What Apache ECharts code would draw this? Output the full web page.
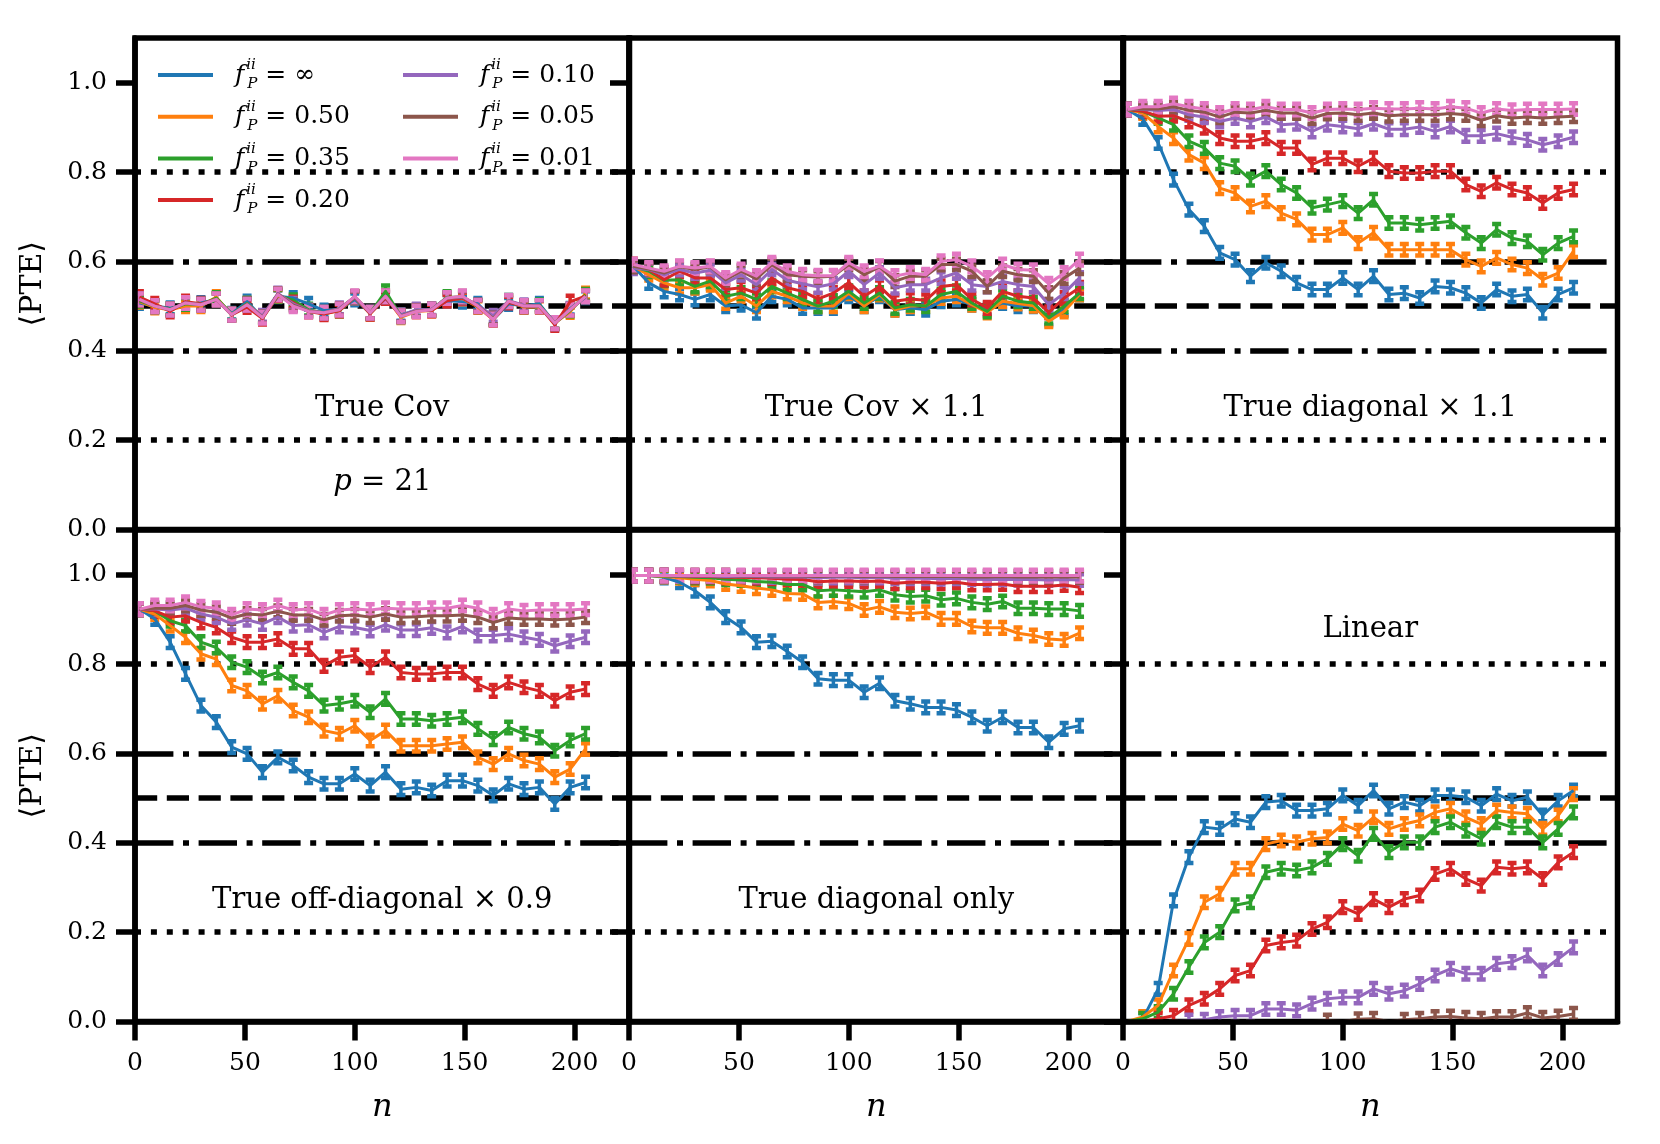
<!DOCTYPE html>
<html>
<head>
<meta charset="utf-8">
<script src="https://cdn.jsdelivr.net/npm/echarts@6/dist/echarts.min.js"></script>
<style>
  html, body { margin: 0; padding: 0; background: #fff; }
  #pte-grid { width: 1660px; height: 1144px; }
</style>
</head>
<body>
<div id="pte-grid"></div>
<script>
// Sample sizes n on the x axis (same for every panel)
const nValues = [2, 9, 16, 23, 30, 37, 44, 51, 58, 65, 72, 79, 86, 93, 100,
  107, 114, 121, 128, 135, 142, 149, 156, 163, 170, 177, 184, 191, 198, 205];

// f_P^ii values, one curve each
const fLabels = ["∞", "0.50", "0.35", "0.20", "0.10", "0.05", "0.01"];
const colors = ["#1f77b4", "#ff7f0e", "#2ca02c", "#d62728", "#9467bd", "#8c564b", "#e377c2"];

const yTicks = [0, 0.2, 0.4, 0.6, 0.8, 1.0];
const xTicks = [0, 50, 100, 150, 200];
const errHalf = 0.013; // half height of the error bars

// <PTE> per panel, rows in the order of fLabels
const trueCov = [
  [0.507,0.500,0.495,0.503,0.507,0.515,0.483,0.510,0.474,0.522,0.518,0.505,0.490,0.492,0.515,0.485,0.518,0.480,0.490,0.492,0.512,0.510,0.505,0.470,0.505,0.500,0.505,0.462,0.494,0.520],
  [0.510,0.497,0.492,0.500,0.500,0.520,0.480,0.505,0.476,0.523,0.510,0.490,0.483,0.490,0.520,0.483,0.522,0.475,0.488,0.490,0.515,0.517,0.498,0.470,0.510,0.498,0.498,0.462,0.487,0.528],
  [0.512,0.500,0.493,0.505,0.503,0.518,0.482,0.505,0.475,0.524,0.513,0.492,0.485,0.490,0.520,0.484,0.533,0.477,0.490,0.492,0.520,0.520,0.500,0.472,0.512,0.500,0.502,0.462,0.490,0.525],
  [0.520,0.505,0.488,0.510,0.505,0.515,0.480,0.498,0.472,0.525,0.508,0.488,0.482,0.490,0.520,0.483,0.518,0.478,0.490,0.490,0.512,0.518,0.500,0.470,0.508,0.500,0.500,0.458,0.510,0.522],
  [0.515,0.500,0.492,0.507,0.503,0.515,0.481,0.503,0.478,0.528,0.505,0.490,0.485,0.495,0.520,0.485,0.522,0.479,0.492,0.493,0.518,0.520,0.502,0.478,0.512,0.502,0.500,0.462,0.492,0.522],
  [0.514,0.500,0.492,0.507,0.504,0.515,0.481,0.504,0.475,0.527,0.502,0.489,0.485,0.493,0.521,0.485,0.522,0.478,0.489,0.492,0.518,0.521,0.501,0.472,0.511,0.500,0.500,0.462,0.492,0.522],
  [0.515,0.500,0.492,0.507,0.503,0.515,0.481,0.503,0.474,0.526,0.500,0.488,0.485,0.492,0.522,0.485,0.522,0.477,0.488,0.492,0.518,0.522,0.500,0.470,0.511,0.500,0.500,0.462,0.492,0.522],
];

const trueCovScaled = [
  [0.589,0.552,0.533,0.526,0.515,0.526,0.500,0.503,0.485,0.522,0.515,0.496,0.496,0.496,0.522,0.500,0.522,0.492,0.496,0.492,0.511,0.515,0.503,0.492,0.507,0.500,0.500,0.470,0.492,0.526],
  [0.589,0.570,0.552,0.541,0.541,0.548,0.507,0.522,0.500,0.533,0.522,0.507,0.500,0.500,0.529,0.500,0.526,0.492,0.500,0.501,0.518,0.522,0.503,0.486,0.511,0.506,0.501,0.466,0.488,0.526],
  [0.589,0.578,0.558,0.559,0.544,0.556,0.522,0.529,0.515,0.544,0.529,0.515,0.500,0.511,0.533,0.507,0.529,0.496,0.503,0.500,0.526,0.533,0.507,0.488,0.522,0.511,0.507,0.474,0.500,0.529],
  [0.593,0.582,0.559,0.578,0.563,0.563,0.537,0.541,0.529,0.563,0.541,0.533,0.516,0.529,0.553,0.522,0.544,0.511,0.516,0.513,0.544,0.548,0.515,0.496,0.533,0.522,0.518,0.486,0.518,0.541],
  [0.585,0.582,0.570,0.582,0.574,0.580,0.552,0.570,0.548,0.582,0.558,0.550,0.543,0.550,0.578,0.548,0.574,0.541,0.548,0.548,0.563,0.574,0.548,0.544,0.555,0.548,0.544,0.503,0.529,0.563],
  [0.589,0.583,0.574,0.588,0.582,0.588,0.559,0.578,0.561,0.593,0.570,0.567,0.565,0.567,0.593,0.570,0.588,0.556,0.567,0.567,0.593,0.593,0.578,0.544,0.578,0.570,0.567,0.529,0.563,0.585],
  [0.593,0.585,0.578,0.589,0.585,0.589,0.563,0.582,0.567,0.597,0.578,0.570,0.568,0.568,0.597,0.578,0.589,0.567,0.574,0.570,0.600,0.604,0.589,0.563,0.593,0.582,0.580,0.550,0.574,0.604],
];

const trueDiagScaled = [
  [0.940,0.919,0.865,0.783,0.716,0.679,0.619,0.604,0.567,0.597,0.578,0.552,0.537,0.537,0.563,0.537,0.567,0.526,0.529,0.518,0.544,0.541,0.529,0.507,0.537,0.522,0.526,0.485,0.526,0.541],
  [0.940,0.932,0.902,0.876,0.839,0.820,0.764,0.753,0.723,0.735,0.708,0.694,0.660,0.660,0.675,0.641,0.664,0.626,0.626,0.626,0.626,0.626,0.604,0.589,0.608,0.593,0.585,0.559,0.574,0.623],
  [0.940,0.936,0.921,0.906,0.869,0.854,0.820,0.813,0.783,0.802,0.772,0.753,0.720,0.727,0.735,0.708,0.738,0.686,0.686,0.682,0.686,0.690,0.664,0.641,0.671,0.652,0.645,0.615,0.641,0.656],
  [0.940,0.936,0.925,0.926,0.913,0.899,0.876,0.869,0.869,0.876,0.854,0.854,0.817,0.831,0.831,0.813,0.831,0.802,0.798,0.798,0.802,0.802,0.772,0.757,0.776,0.761,0.753,0.731,0.753,0.761],
  [0.940,0.940,0.938,0.940,0.928,0.923,0.913,0.921,0.913,0.923,0.906,0.908,0.891,0.906,0.902,0.897,0.908,0.896,0.896,0.901,0.891,0.902,0.881,0.881,0.886,0.878,0.872,0.861,0.869,0.878],
  [0.940,0.941,0.941,0.946,0.938,0.934,0.923,0.934,0.932,0.938,0.932,0.932,0.921,0.931,0.932,0.928,0.932,0.926,0.928,0.928,0.928,0.931,0.928,0.916,0.926,0.921,0.923,0.921,0.923,0.925],
  [0.940,0.946,0.946,0.953,0.946,0.941,0.932,0.941,0.940,0.946,0.940,0.940,0.932,0.940,0.941,0.940,0.943,0.941,0.941,0.943,0.941,0.946,0.943,0.932,0.941,0.938,0.940,0.940,0.940,0.941],
];

const trueOffDiagScaled = [
  [0.923,0.901,0.849,0.778,0.707,0.670,0.614,0.599,0.558,0.591,0.573,0.547,0.532,0.532,0.554,0.528,0.558,0.520,0.524,0.517,0.539,0.539,0.528,0.506,0.532,0.520,0.524,0.487,0.524,0.535],
  [0.923,0.912,0.886,0.860,0.823,0.811,0.752,0.740,0.711,0.729,0.696,0.681,0.651,0.644,0.662,0.629,0.651,0.617,0.617,0.617,0.621,0.625,0.591,0.576,0.599,0.584,0.576,0.547,0.565,0.610],
  [0.923,0.919,0.897,0.886,0.849,0.837,0.804,0.793,0.770,0.781,0.759,0.740,0.707,0.711,0.718,0.692,0.722,0.677,0.677,0.673,0.677,0.681,0.655,0.632,0.658,0.644,0.636,0.606,0.629,0.644],
  [0.923,0.919,0.905,0.908,0.893,0.882,0.860,0.849,0.849,0.856,0.834,0.834,0.796,0.815,0.819,0.793,0.815,0.781,0.778,0.778,0.781,0.781,0.755,0.740,0.759,0.748,0.740,0.718,0.737,0.744],
  [0.923,0.923,0.921,0.925,0.912,0.905,0.890,0.899,0.890,0.905,0.886,0.888,0.871,0.884,0.882,0.875,0.888,0.876,0.876,0.881,0.871,0.884,0.864,0.864,0.867,0.860,0.854,0.841,0.851,0.860],
  [0.923,0.925,0.925,0.931,0.921,0.916,0.903,0.912,0.910,0.918,0.910,0.910,0.899,0.908,0.910,0.905,0.912,0.905,0.906,0.908,0.908,0.910,0.905,0.893,0.903,0.901,0.901,0.899,0.901,0.905],
  [0.923,0.931,0.931,0.938,0.928,0.925,0.910,0.923,0.921,0.931,0.921,0.923,0.910,0.921,0.923,0.921,0.925,0.923,0.923,0.925,0.925,0.931,0.925,0.910,0.923,0.919,0.921,0.921,0.921,0.923],
];

const trueDiagOnly = [
  [0.998,0.998,0.994,0.983,0.964,0.938,0.905,0.882,0.849,0.851,0.828,0.804,0.767,0.764,0.764,0.737,0.757,0.718,0.711,0.703,0.703,0.697,0.681,0.662,0.681,0.658,0.658,0.625,0.655,0.662],
  [0.998,0.998,0.996,0.993,0.990,0.987,0.979,0.975,0.970,0.966,0.958,0.957,0.938,0.940,0.936,0.921,0.928,0.916,0.913,0.916,0.901,0.901,0.884,0.881,0.881,0.869,0.864,0.856,0.854,0.869],
  [0.998,0.998,0.997,0.996,0.994,0.993,0.990,0.988,0.985,0.983,0.978,0.978,0.964,0.966,0.964,0.962,0.966,0.955,0.951,0.953,0.944,0.947,0.938,0.934,0.940,0.925,0.925,0.923,0.923,0.919],
  [0.998,0.998,0.998,0.997,0.996,0.996,0.994,0.994,0.993,0.992,0.990,0.989,0.984,0.986,0.986,0.985,0.986,0.981,0.983,0.983,0.981,0.983,0.978,0.978,0.979,0.974,0.974,0.974,0.977,0.972],
  [0.998,0.998,0.998,0.997,0.997,0.997,0.996,0.996,0.996,0.995,0.995,0.995,0.993,0.994,0.994,0.993,0.994,0.992,0.992,0.992,0.991,0.992,0.990,0.989,0.990,0.989,0.989,0.988,0.989,0.988],
  [0.998,0.998,0.998,0.998,0.998,0.998,0.998,0.997,0.997,0.997,0.997,0.997,0.996,0.997,0.997,0.996,0.997,0.996,0.996,0.996,0.996,0.996,0.995,0.995,0.996,0.995,0.995,0.995,0.995,0.995],
  [0.998,0.998,0.998,0.998,0.998,0.998,0.998,0.998,0.998,0.998,0.998,0.998,0.998,0.998,0.998,0.998,0.998,0.998,0.998,0.998,0.998,0.998,0.998,0.998,0.998,0.998,0.998,0.998,0.998,0.998],
];

const linearModel = [
  [0.000,0.006,0.073,0.271,0.368,0.435,0.431,0.453,0.446,0.491,0.494,0.472,0.472,0.476,0.506,0.483,0.517,0.476,0.491,0.483,0.506,0.506,0.502,0.483,0.509,0.494,0.502,0.461,0.494,0.517],
  [0.000,0.010,0.036,0.114,0.185,0.267,0.286,0.342,0.342,0.397,0.405,0.401,0.409,0.412,0.442,0.427,0.457,0.431,0.442,0.450,0.468,0.476,0.457,0.442,0.472,0.468,0.465,0.431,0.461,0.509],
  [0.000,0.006,0.021,0.062,0.122,0.177,0.200,0.260,0.267,0.334,0.342,0.338,0.345,0.364,0.397,0.371,0.420,0.379,0.401,0.401,0.435,0.446,0.427,0.409,0.446,0.435,0.435,0.401,0.431,0.468],
  [0.000,0.000,0.006,0.013,0.036,0.051,0.073,0.103,0.114,0.170,0.177,0.181,0.207,0.222,0.256,0.241,0.274,0.256,0.274,0.282,0.330,0.342,0.319,0.304,0.345,0.342,0.345,0.319,0.356,0.379],
  [0.000,0.000,0.000,0.000,0.002,0.004,0.010,0.013,0.013,0.028,0.028,0.025,0.040,0.051,0.054,0.054,0.073,0.062,0.069,0.084,0.103,0.118,0.107,0.107,0.129,0.133,0.148,0.114,0.140,0.166],
  [0.000,0.000,0.000,0.000,0.000,0.000,0.000,0.000,0.000,0.000,0.000,0.000,0.000,0.002,0.000,0.005,0.006,0.000,0.004,0.006,0.010,0.011,0.008,0.006,0.010,0.010,0.019,0.008,0.011,0.017],
  [0.000,0.000,0.000,0.000,0.000,0.000,0.000,0.000,0.000,0.000,0.000,0.000,0.000,0.000,0.000,0.000,0.000,0.000,0.000,0.000,0.000,0.000,0.000,0.000,0.000,0.000,0.000,0.000,0.000,0.000],
];

const panelData = [trueCov, trueCovScaled, trueDiagScaled, trueOffDiagScaled, trueDiagOnly, linearModel];

// Layout of the 2x3 panel grid (pixels)
const colLeft = [135, 629, 1123];
const rowTop = [38, 530];
const cellW = 494.5;
const cellH = 491.5;
const colCenter = colLeft.map((l) => l + cellW / 2);

const serif = "DejaVu Serif";
const lineW = 5.5;

// Horizontal reference lines, drawn in every panel
const refLines = [
  { yAxis: 0.8, lineStyle: { type: [6, 9.9] } },
  { yAxis: 0.6, lineStyle: { type: [38.4, 9.6, 6, 9.6] } },
  { yAxis: 0.5, lineStyle: { type: [22.2, 9.6] } },
  { yAxis: 0.4, lineStyle: { type: [38.4, 9.6, 6, 9.6] } },
  { yAxis: 0.2, lineStyle: { type: [6, 9.9] } },
];

const grids = [];
const xAxes = [];
const yAxes = [];
const series = [];

for (let i = 0; i < 6; i++) {
  const row = Math.floor(i / 3);
  const col = i % 3;
  const bottomRow = row === 1;
  const firstCol = col === 0;

  grids.push({
    left: colLeft[col],
    top: rowTop[row],
    width: cellW,
    height: cellH,
    show: true,
    borderColor: "#000",
    borderWidth: lineW,
    backgroundColor: "transparent",
    containLabel: false,
    outerBoundsMode: "none",
  });

  xAxes.push({
    type: "value",
    gridIndex: i,
    min: 0,
    max: 225,
    z: 10,
    name: bottomRow ? "n" : "",
    nameLocation: "middle",
    nameGap: 70,
    nameTextStyle: { fontFamily: serif, fontStyle: "italic", fontSize: 32, color: "#000" },
    axisLine: { show: bottomRow, lineStyle: { color: "#000", width: lineW } },
    axisTick: { show: bottomRow, customValues: xTicks, length: 19, lineStyle: { color: "#000", width: lineW } },
    axisLabel: { show: bottomRow, customValues: xTicks, margin: 29, fontFamily: serif, fontSize: 25, color: "#000" },
    splitLine: { show: false },
  });

  yAxes.push({
    type: "value",
    gridIndex: i,
    min: 0,
    max: 1.1,
    z: 10,
    name: firstCol ? "⟨PTE⟩" : "",
    nameLocation: "middle",
    nameRotate: 90,
    nameGap: 87,
    nameTextStyle: { fontFamily: serif, fontSize: 30, color: "#000" },
    axisLine: { show: true, lineStyle: { color: "#000", width: lineW } },
    axisTick: { show: true, customValues: yTicks, length: 19, lineStyle: { color: "#000", width: lineW } },
    axisLabel: {
      show: firstCol,
      customValues: yTicks,
      margin: 28,
      fontFamily: serif,
      fontSize: 25,
      color: "#000",
      formatter: (v) => v.toFixed(1),
    },
    splitLine: { show: false },
  });

  panelData[i].forEach((values, k) => {
    const color = colors[k];
    const lineSeries = {
      type: "line",
      name: fLabels[k],
      xAxisIndex: i,
      yAxisIndex: i,
      data: nValues.map((n, j) => [n, values[j]]),
      showSymbol: false,
      symbol: "none",
      clip: true,
      silent: true,
      color: color,
      lineStyle: { color: color, width: 3, join: "round" },
      emphasis: { disabled: true },
    };
    if (k === 0) {
      lineSeries.markLine = {
        silent: true,
        z: 1,
        symbol: ["none", "none"],
        label: { show: false },
        lineStyle: { color: "#000", width: lineW },
        emphasis: { disabled: true },
        data: refLines,
      };
    }
    series.push(lineSeries);

    // Error bars with caps
    series.push({
      type: "custom",
      xAxisIndex: i,
      yAxisIndex: i,
      clip: true,
      silent: true,
      encode: { x: 0, y: 1 },
      data: nValues.map((n, j) => [n, values[j], values[j] > 0 ? errHalf : 0]),
      renderItem: (params, api) => {
        const e = api.value(2);
        if (!(e > 0)) return;
        const x = api.value(0);
        const y = api.value(1);
        const top = api.coord([x, y + e]);
        const bot = api.coord([x, y - e]);
        const cw = 4.5;
        const capStyle = { stroke: color, lineWidth: 4.5 };
        return {
          type: "group",
          children: [
            { type: "line", shape: { x1: top[0], y1: top[1], x2: bot[0], y2: bot[1] }, style: { stroke: color, lineWidth: 3.5 } },
            { type: "line", shape: { x1: top[0] - cw, y1: top[1], x2: top[0] + cw, y2: top[1] }, style: capStyle },
            { type: "line", shape: { x1: bot[0] - cw, y1: bot[1], x2: bot[0] + cw, y2: bot[1] }, style: capStyle },
          ],
        };
      },
    });
  });
}

// Panel captions
const titleStyle = {
  fontFamily: serif,
  fontWeight: "normal",
  fontSize: 29,
  color: "#000",
  rich: { it: { fontFamily: serif, fontStyle: "italic", fontSize: 29, color: "#000" } },
};
const makeTitle = (text, x, y) => ({
  text: text,
  left: x,
  top: y,
  padding: 0,
  textAlign: "center",
  textVerticalAlign: "middle",
  textStyle: titleStyle,
});
const titles = [
  makeTitle("True Cov", colCenter[0], 408),
  makeTitle("{it|p} = 21", colCenter[0], 482),
  makeTitle("True Cov × 1.1", colCenter[1], 408),
  makeTitle("True diagonal × 1.1", colCenter[2], 408),
  makeTitle("True off-diagonal × 0.9", colCenter[0], 900),
  makeTitle("True diagonal only", colCenter[1], 900),
  makeTitle("Linear", colCenter[2], 629),
];

// Legend text: f_P^ii = value
const legendRich = {
  f: { fontFamily: serif, fontStyle: "italic", fontSize: 25, lineHeight: 34, color: "#000", padding: [0, 2, 0, 17] },
  sup: { fontFamily: serif, fontStyle: "italic", fontSize: 15, lineHeight: 17, width: 1, verticalAlign: "top", color: "#000" },
  sub: { fontFamily: serif, fontStyle: "italic", fontSize: 15, lineHeight: 20, verticalAlign: "bottom", color: "#000" },
  eq: { fontFamily: serif, fontSize: 25, lineHeight: 34, color: "#000", padding: [0, 0, 0, 8] },
};
const makeLegend = (names, x) => ({
  data: names.map((name) => ({ name: name, icon: "rect" })),
  orient: "vertical",
  left: x,
  top: 58,
  padding: 0,
  itemWidth: 55,
  itemHeight: 4,
  itemGap: 7.7,
  selectedMode: false,
  formatter: (name) => `{f|f}{sup|ii}{sub|P}{eq|= ${name}}`,
  textStyle: { rich: legendRich },
});

const option = {
  animation: false,
  backgroundColor: "#fff",
  title: titles,
  legend: [makeLegend(fLabels.slice(0, 4), 158), makeLegend(fLabels.slice(4), 403)],
  tooltip: { show: false },
  grid: grids,
  xAxis: xAxes,
  yAxis: yAxes,
  series: series,
};

const chart = echarts.init(document.getElementById("pte-grid"));
chart.setOption(option);
window.addEventListener("resize", () => chart.resize());
</script>
</body>
</html>
